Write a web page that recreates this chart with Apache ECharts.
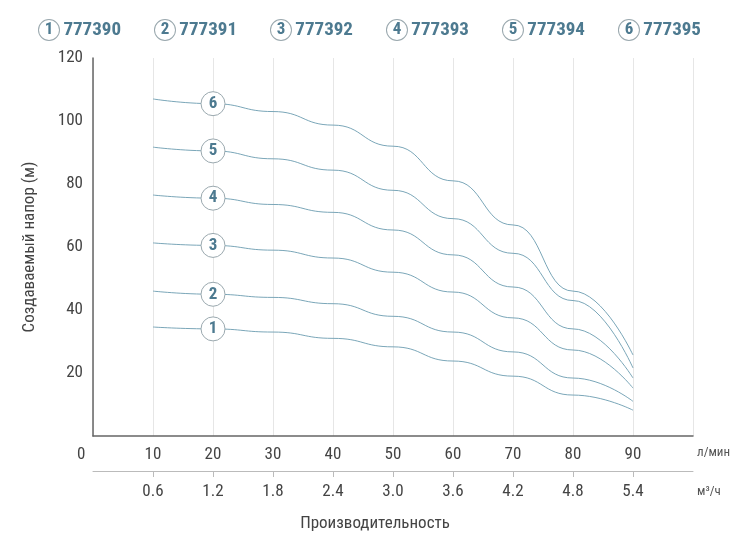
<!DOCTYPE html>
<html>
<head>
<meta charset="utf-8">
<script src="https://cdn.jsdelivr.net/npm/echarts@6/dist/echarts.min.js"></script>
</head>
<body style="margin:0">
<div id="main" style="width:750px;height:551px;"></div>
<script>
var flow = [10, 20, 30, 40, 50, 60, 70, 80, 90];
var models = ['777390', '777391', '777392', '777393', '777394', '777395'];
var head1 = [34.6, 34, 33, 31, 28.3, 23.8, 19, 13, 8.2];
var head2 = [46, 45, 44, 42, 38, 33, 26.7, 18.4, 11];
var head3 = [61.3, 60.5, 59, 56.5, 52, 45.7, 37.5, 27.3, 15.2];
var head4 = [76.5, 75.5, 73.5, 71, 65.4, 57.5, 47.3, 34, 18.4];
var head5 = [91.7, 90.5, 88, 84.4, 78, 69, 58, 43, 21.6];
var head6 = [107, 105.5, 103, 98.7, 92, 81, 67, 46, 25.7];
var heads = [head1, head2, head3, head4, head5, head6];

var font = '"Roboto Condensed", "Liberation Sans Narrow", "Roboto", sans-serif';
var blue = '#4d7a90';
var chart = echarts.init(document.getElementById('main'));

var series = heads.map(function (h, i) {
    return {
        name: models[i],
        type: 'line',
        smooth: true,
        smoothMonotone: 'x',
        symbol: 'none',
        z: 2,
        lineStyle: {color: '#7aa6b8', width: 1},
        data: flow.map(function (f, j) { return [f, h[j]]; }),
        markPoint: {
            symbol: 'circle',
            symbolSize: 24,
            itemStyle: {color: '#fff', borderColor: '#9aa8ae', borderWidth: 1},
            label: {show: true, formatter: String(i + 1), color: blue, fontSize: 17, fontWeight: 'bold', fontFamily: font},
            data: [{coord: [flow[1], h[1]]}]
        }
    };
});

chart.setOption({
    animation: false,
    legend: {
        top: 14, left: 28, itemGap: 28, itemWidth: 0, itemHeight: 0,
        data: models,
        formatter: function (name) {
            return '{c|' + (models.indexOf(name) + 1) + '} ' + name;
        },
        textStyle: {
            color: blue, fontSize: 19, fontWeight: 'bold', fontFamily: font,
            rich: {
                c: {color: blue, fontSize: 17, fontWeight: 'bold', fontFamily: font,
                    width: 20, height: 20, align: 'center', borderRadius: 11,
                    borderColor: '#9aa8ae', borderWidth: 1, backgroundColor: '#fff'}
            }
        }
    },
    grid: {left: 93, right: 57, top: 58, bottom: 115},
    xAxis: [{
        type: 'value', min: 0, max: 100, interval: 10,
        name: 'л/мин', nameGap: 4,
        nameTextStyle: {color: '#555', fontSize: 13, fontFamily: font, verticalAlign: 'top', padding: [10, 0, 0, 0]},
        axisLine: {lineStyle: {color: '#666', width: 1.5}},
        axisTick: {show: false},
        axisLabel: {color: '#444', fontSize: 17, fontFamily: font, margin: 10,
            formatter: function (v) { return v === 100 ? '' : (v === 0 ? '0      ' : v); }},
        splitLine: {show: true, lineStyle: {color: '#e6e6e6'}}
    }, {
        type: 'value', min: 0, max: 100, interval: 10, position: 'bottom', offset: 35,
        name: 'м³/ч', nameGap: 4,
        nameTextStyle: {color: '#555', fontSize: 13, fontFamily: font, verticalAlign: 'top', padding: [14, 0, 0, 0]},
        axisLine: {lineStyle: {color: '#bbb', width: 1}},
        axisTick: {show: true, length: 6, lineStyle: {color: '#bbb'},
            customValues: [10, 20, 30, 40, 50, 60, 70, 80, 90]},
        axisLabel: {color: '#444', fontSize: 17, fontFamily: font, margin: 12,
            formatter: function (v) { return (v === 0 || v === 100) ? '' : (v * 0.06).toFixed(1); }},
        splitLine: {show: false}
    }],
    yAxis: {
        type: 'value', min: 0, max: 120, interval: 20,
        name: 'Создаваемый напор (м)', nameLocation: 'middle', nameGap: 55,
        nameTextStyle: {color: '#444', fontSize: 17, fontFamily: font},
        axisLine: {show: true, lineStyle: {color: '#666', width: 1.5}},
        axisTick: {show: false},
        axisLabel: {color: '#444', fontSize: 17, fontFamily: font, margin: 10,
            formatter: function (v) { return v === 0 ? '' : v; }},
        splitLine: {show: false}
    },
    graphic: [{
        type: 'text', left: 'center', top: 515,
        style: {text: 'Производительность', fill: '#444', fontSize: 17, fontFamily: font}
    }],
    series: series
});
</script>
</body>
</html>
